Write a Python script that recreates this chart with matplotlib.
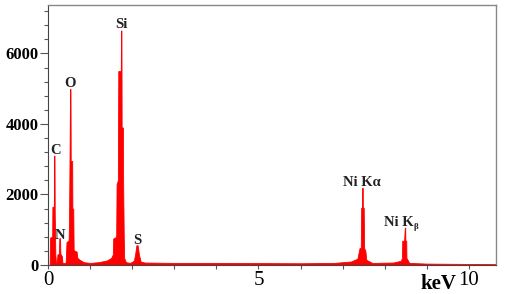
import matplotlib
matplotlib.use("Agg")
import matplotlib.pyplot as plt
from matplotlib.ticker import MultipleLocator, FixedLocator

# EDS spectrum outline (keV, counts)
energy = [0.00, 0.04, 0.05, 0.10, 0.105, 0.14, 0.145, 0.155, 0.16, 0.175,
          0.19, 0.21, 0.225, 0.26, 0.27, 0.285, 0.295, 0.33, 0.345, 0.40,
          0.42, 0.44, 0.49, 0.50, 0.525, 0.535, 0.54, 0.575, 0.58, 0.60,
          0.61, 0.68, 0.70, 0.75, 0.85, 1.0, 1.2, 1.4, 1.5, 1.54,
          1.55, 1.62, 1.63, 1.66, 1.67, 1.73, 1.735, 1.745, 1.75, 1.78,
          1.785, 1.80, 1.81, 1.85, 1.95, 2.04, 2.07, 2.10, 2.13, 2.16,
          2.20, 2.3, 3.0, 4.0, 5.0, 6.0, 6.8, 7.2, 7.35, 7.40,
          7.43, 7.44, 7.46, 7.465, 7.475, 7.48, 7.50, 7.51, 7.54, 7.56,
          7.7, 8.2, 8.38, 8.41, 8.415, 8.46, 8.475, 8.485, 8.49, 8.51,
          8.515, 8.54, 8.58, 9.0, 10.0, 10.64]
counts = [0, 0, 780, 800, 1650, 1660, 3100, 3100, 1500, 300,
          60, 80, 300, 320, 760, 760, 320, 250, 60, 50,
          80, 650, 700, 1200, 4990, 4990, 2950, 2950, 1600, 1600,
          420, 380, 200, 150, 80, 60, 80, 130, 200, 300,
          750, 800, 2300, 2400, 5500, 5500, 6650, 6650, 3900, 3900,
          2400, 800, 200, 80, 60, 120, 300, 560, 560, 300,
          100, 70, 60, 60, 55, 50, 60, 100, 180, 480,
          490, 1625, 1625, 2190, 2190, 1625, 1625, 480, 400, 150,
          60, 70, 120, 200, 690, 690, 1057, 1057, 690, 690,
          200, 150, 60, 40, 30, 25]

# peak labels: text, energy, counts
peak_names = ["C", "N", "O", "Si", "S", "Ni K\u03b1", "Ni K"]
peak_x = [0.17, 0.29, 0.53, 1.74, 2.12, 7.46, 8.33]
peak_y = [3050, 650, 4950, 6650, 520, 2150, 1020]

plt.rcParams["font.family"] = ["Liberation Serif", "DejaVu Serif"]

fig = plt.figure(figsize=(5.05, 2.94), dpi=100)
ax = fig.add_axes([0.095, 0.0986, 0.887, 0.884])

ax.fill_between(energy, counts, color="#ff0000", linewidth=0.6, edgecolor="#ff0000")

labels = []
for name, x, y in zip(peak_names, peak_x, peak_y):
    t = ax.text(x, y, name, ha="center", va="bottom", fontsize=10.5,
                fontweight="bold", color="#222222")
    labels.append(t)
# small subscript beta after the last "Ni K"
ax.annotate("\u03b2", xy=(1.0, 0.12), xycoords=labels[-1], ha="left", va="center",
            fontsize=6.5, fontweight="bold", color="#222222")

ax.set_xlim(0, 10.64)
ax.set_ylim(0, 7370)

ax.xaxis.set_major_locator(FixedLocator([0, 5, 10]))
ax.xaxis.set_minor_locator(MultipleLocator(1))
ax.yaxis.set_major_locator(FixedLocator([0, 2000, 4000, 6000]))
ax.yaxis.set_minor_locator(MultipleLocator(400))

ax.tick_params(axis="y", which="major", length=6, width=0.8, color="#555555",
               labelsize=12, pad=1)
ax.tick_params(axis="y", which="minor", length=3, width=0.8, color="#555555")
ax.tick_params(axis="x", which="both", length=3, width=0.8, color="#555555",
               labelsize=15, pad=1)
for lab in ax.get_yticklabels():
    lab.set_fontweight("bold")

for side in ["top", "right"]:
    ax.spines[side].set_color("#888888")
    ax.spines[side].set_linewidth(1.0)
ax.spines["left"].set_color("#444444")
ax.spines["bottom"].set_color("#444444")

ax.text(9.28, -0.035, "keV", transform=ax.get_xaxis_transform(), ha="center",
        va="top", fontsize=15, fontweight="bold")

fig.savefig("out.png", dpi=100)
